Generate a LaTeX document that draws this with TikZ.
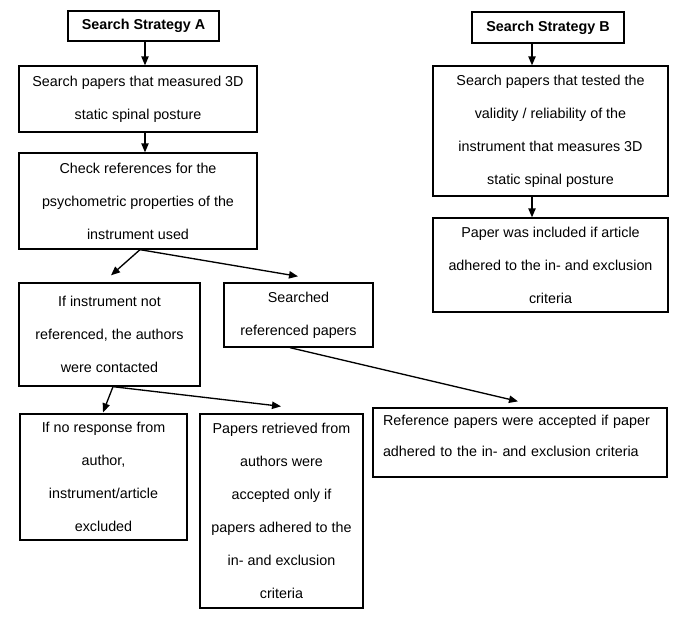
\documentclass[tikz,border=0pt]{standalone}
\usepackage{fontspec}
\setmainfont{Liberation Sans}
\usetikzlibrary{arrows.meta,calc}

\tikzset{every picture/.style={line width=1pt}}
\tikzset{
    flowbox/.style={draw, align=center, inner sep=0pt, font={\fontsize{10.75pt}{24.75pt}\selectfont}},
    arr/.style={-{Triangle[length=6.75pt,width=5.5pt]}}
}

\begin{document}
\begin{tikzpicture}[x=0.75pt,y=0.75pt,yscale=-1,xscale=1]
        \useasboundingbox (0,0) rectangle (685,621);
        \node [flowbox, minimum width=113.25pt, minimum height=22.5pt] (stratA) at (143.5,26) {\textbf{Search Strategy A}};
        \node [flowbox, minimum width=178.5pt, minimum height=49.5pt] (searchA) at (138,99) {Search papers that measured 3D\\static spinal posture};
        \node [flowbox, minimum width=178.5pt, minimum height=72pt] (checkRefs) at (138,201) {Check references for the\\psychometric properties of the\\instrument used};
        \node [flowbox, minimum width=135.75pt, minimum height=77.25pt] (notRef) at (109.5,334.5) {If instrument not\\referenced, the authors\\were contacted};
        \node [flowbox, minimum width=111.75pt, minimum height=48pt] (searchedRefs) at (298.5,315) {Searched\\referenced papers};
        \node [flowbox, minimum width=125.25pt, minimum height=94.5pt] (noResponse) at (103.5,477) {If no response from\\author,\\instrument/article\\excluded};
        \node [flowbox, minimum width=122.25pt, minimum height=145.5pt] (retrieved) at (281.5,511) {Papers retrieved from\\authors were\\accepted only if\\papers adhered to the\\in- and exclusion\\criteria};
        \node [flowbox, align=left, font={\fontsize{10.75pt}{23.25pt}\selectfont}, text width=205.5pt, inner xsep=7.5pt, text depth=33pt, minimum height=51.75pt] (refAccepted) at (520,442.5) {Reference papers were accepted if paper\\adhered to the in- and exclusion criteria};
        \node [flowbox, minimum width=114pt, minimum height=23.25pt] (stratB) at (548,27.5) {\textbf{Search Strategy B}};
        \node [flowbox, minimum width=176.25pt, minimum height=97.5pt] (searchB) at (550.5,131) {Search papers that tested the\\validity / reliability of the\\instrument that measures 3D\\static spinal posture};
        \node [flowbox, minimum width=176.25pt, minimum height=70.5pt] (included) at (550.5,265) {Paper was included if article\\adhered to the in- and exclusion\\criteria};

        \coordinate (aOut) at ($(stratA.south)+(1.5,0)$);
        \coordinate (bOut) at ($(stratB.south)+(-16,0)$);
        \coordinate (split) at ($(checkRefs.south)+(2,0)$);
        \coordinate (notRefOut) at ($(notRef.south)+(3.5,0)$);
        \coordinate (searchedOut) at ($(searchedRefs.south)+(-8.5,0)$);

        \draw [arr] (aOut) -- (aOut |- searchA.north);
        \draw [arr] (aOut |- searchA.south) -- (aOut |- checkRefs.north);
        \draw [arr] (bOut) -- (bOut |- searchB.north);
        \draw [arr] (bOut |- searchB.south) -- (bOut |- included.north);
        \draw [arr] (split) -- ($(notRef.north)+(1.5,-7)$);
        \draw [arr] (split) -- ($(searchedRefs.north)+(-0.5,-6)$);
        \draw [arr] (notRefOut) -- ($(noResponse.north)+(-0.5,-1)$);
        \draw [arr] (notRefOut) -- ($(retrieved.north)+(-0.5,-7)$);
        \draw [arr] (searchedOut) -- ($(refAccepted.north)+(-2,-6)$);
\end{tikzpicture}
\end{document}
